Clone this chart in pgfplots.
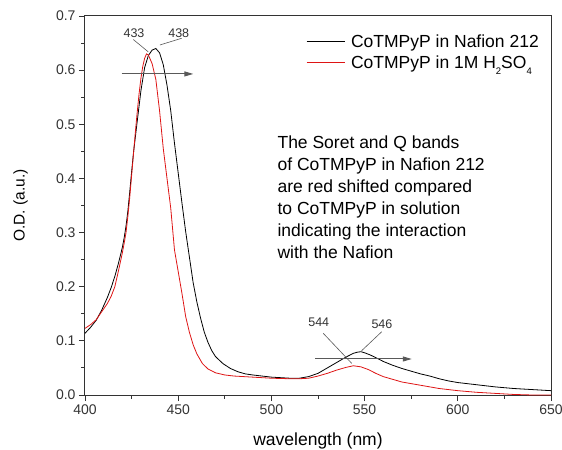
\documentclass[border=0pt]{standalone}
\usepackage{pgfplots}
\pgfplotsset{compat=1.18}
\usepackage{fontspec}
\setmainfont{Liberation Sans}
\usetikzlibrary{arrows.meta}

\definecolor{axisgray}{gray}{0.2}
\definecolor{notegray}{gray}{0.35}
\definecolor{solred}{RGB}{222,20,20}

% low, small subscript as used in the legend
\newcommand{\lowsub}[1]{\raisebox{-6bp}{\fontsize{9.5bp}{10bp}\selectfont #1}}

\pgfplotstableread{
lambda od
400 0.114
403 0.125
406 0.138
409 0.157
412 0.180
414 0.198
416 0.219
418 0.244
420 0.272
421 0.290
422 0.312
423 0.340
424 0.375
425 0.412
426 0.447
428 0.505
430 0.562
432 0.605
434 0.627
436 0.637
438 0.640
440 0.632
442 0.610
444 0.572
446 0.525
448 0.465
450 0.410
452 0.355
454 0.302
456 0.255
458 0.208
460 0.172
462 0.142
464 0.116
466 0.097
468 0.082
470 0.071
474 0.058
478 0.049
482 0.043
486 0.039
490 0.037
495 0.035
500 0.033
505 0.032
510 0.031
515 0.031
520 0.034
525 0.040
530 0.050
535 0.060
540 0.070
544 0.077
546 0.079
548 0.080
550 0.078
553 0.074
556 0.069
560 0.062
565 0.055
570 0.049
575 0.044
580 0.039
585 0.035
590 0.030
595 0.026
600 0.023
610 0.019
620 0.015
630 0.012
640 0.010
650 0.008
}\nafion

\pgfplotstableread{
lambda od
400 0.123
403 0.130
406 0.139
409 0.154
412 0.169
414 0.182
416 0.200
418 0.230
420 0.262
421 0.280
422 0.300
423 0.330
424 0.365
425 0.405
426 0.445
427 0.485
428 0.522
429 0.556
430 0.585
431 0.607
432 0.622
433 0.630
434 0.628
436 0.612
438 0.583
440 0.525
442 0.455
444 0.400
446 0.345
448 0.268
450 0.228
452 0.188
454 0.145
456 0.116
458 0.093
460 0.076
463 0.058
466 0.048
470 0.041
475 0.037
480 0.035
490 0.033
500 0.031
510 0.030
515 0.030
520 0.031
525 0.035
530 0.040
535 0.046
540 0.051
544 0.054
548 0.052
552 0.047
556 0.040
560 0.034
565 0.029
570 0.024
580 0.018
590 0.012
600 0.008
610 0.005
620 0.003
630 0.001
640 0.000
650 0.000
}\acid

\begin{document}
\begin{tikzpicture}
\path[use as bounding box] (-85bp,-55bp) rectangle (477bp,395bp);
\begin{axis}[
  at={(0,0)}, anchor=south west,
  scale only axis, width=466bp, height=379bp,
  xmin=400, xmax=650, ymin=0, ymax=0.7,
  xtick={400,450,500,550,600,650},
  ytick={0,0.1,0.2,0.3,0.4,0.5,0.6,0.7},
  minor x tick num=1, minor y tick num=1,
  xtick pos=bottom, ytick pos=left,
  tick align=outside,
  major tick length=6bp, minor tick length=3.5bp,
  axis line style={axisgray, line width=1bp},
  every tick/.style={axisgray, line width=0.9bp},
  /pgf/number format/assume math mode=true,
  yticklabel style={/pgf/number format/.cd, fixed, zerofill, precision=1},
  xticklabel style={/pgf/number format/.cd, fixed, precision=0, set thousands separator={}},
  ticklabel style={font=\fontsize{14bp}{16bp}\selectfont, text=axisgray},
  xlabel={wavelength (nm)},
  ylabel={O.D. (a.u.)},
  xlabel style={font=\fontsize{17.5bp}{20bp}\selectfont, at={(axis description cs:0.5,-0.121)}, anchor=center},
  ylabel style={font=\fontsize{15.5bp}{18bp}\selectfont, at={(axis description cs:-0.138,0.5)}, anchor=center},
  legend style={draw=none, fill=none, at={(axis cs:518.6,0.668)}, anchor=north west,
    font=\fontsize{17.5bp}{20bp}\selectfont, inner sep=0pt, row sep=5bp, column sep=5bp,
    nodes={inner sep=1bp}},
  legend cell align=left,
  legend image code/.code={\draw[#1] (0bp,0bp) -- (38bp,0bp);},
]
\addplot[black, line width=0.8bp] table[x=lambda, y=od] {\nafion};
\addlegendentry{CoTMPyP in Nafion 212}
\addplot[solred, line width=0.8bp] table[x=lambda, y=od] {\acid};
\addlegendentry{CoTMPyP in 1M H\lowsub{2}SO\lowsub{4}}

% shift arrows for the Soret and Q bands
\draw[notegray, line width=1bp, -{Triangle[length=9bp, width=5bp]}] (axis cs:419.7,0.593) -- (axis cs:458.1,0.593);
\draw[notegray, line width=1bp, -{Triangle[length=9bp, width=5bp]}] (axis cs:523.4,0.0665) -- (axis cs:575.3,0.0665);

% peak position labels with leader lines
\draw[notegray, line width=0.6bp] (axis cs:425.9,0.6566) -- (axis cs:433.9,0.6339);
\draw[notegray, line width=0.6bp] (axis cs:440.2,0.6465) -- (axis cs:451.9,0.6589);
\draw[notegray, line width=0.6bp] (axis cs:527.8,0.1140) -- (axis cs:543.1,0.0584);
\draw[notegray, line width=0.6bp] (axis cs:559.2,0.1169) -- (axis cs:548.4,0.0818);
\begin{scope}[every node/.style={font=\fontsize{12.5bp}{14bp}\selectfont, text=axisgray, inner sep=0pt}]
\node at (axis cs:426.3,0.668) {433};
\node at (axis cs:450.3,0.668) {438};
\node at (axis cs:525.4,0.1343) {544};
\node at (axis cs:559.3,0.1311) {546};
\end{scope}

\node[anchor=north west, align=left, inner sep=0pt,
      font=\fontsize{17.5bp}{22bp}\selectfont]
  at (axis cs:503.2,0.4795)
  {The Soret and Q bands\\of CoTMPyP in Nafion 212\\are red shifted compared\\to CoTMPyP in solution\\indicating the interaction\\with the Nafion};
\end{axis}
\end{tikzpicture}
\end{document}
